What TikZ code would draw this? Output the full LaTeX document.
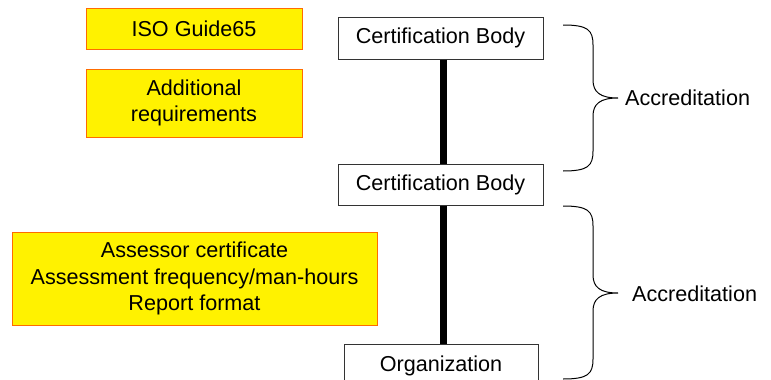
\documentclass[tikz,border=0pt]{standalone}
\usepackage{fontspec}
\setmainfont{Liberation Sans}
\begin{document}
\begin{tikzpicture}[x=1pt,y=-1pt,
  every node/.style={font=\fontsize{21.6}{26.5}\selectfont, inner sep=0pt, align=center},
  yel/.style={draw=orange!85!red, line width=1pt, fill=yellow},
  wbox/.style={draw=black!80, line width=1pt, fill=white},
  brc/.style={draw=black, line width=1pt},
  conn/.style={line width=7pt, draw=black}]
\useasboundingbox (0,0) rectangle (771,380);
\clip (0,0) rectangle (771,380);
% yellow boxes
\node[yel, minimum width=216, minimum height=41] (iso) at (194,29) {ISO Guide65};
\node[yel, minimum width=216, minimum height=68] (add) at (194,103) {Additional\\requirements};
\node[yel, minimum width=365, minimum height=93] (ass) at (194.5,278.5) {Assessor certificate\\Assessment frequency/man-hours\\Report format};
% white boxes
\node[wbox, minimum width=205, minimum height=42] (cb1) at (440.5,38) {Certification Body};
\node[wbox, minimum width=205, minimum height=41] (cb2) at (440.5,184.5) {Certification Body};
\node[wbox, minimum width=194, minimum height=44] (org) at (441,366) {Organization};
% connectors
\draw[conn] ([xshift=2.5]cb1.south) -- ([xshift=2.5]cb2.north);
\draw[conn] ([xshift=2.5]cb2.south) -- ([xshift=2]org.north);
% braces
\draw[brc] (563,25) .. controls (588,25) and (593,30) .. (593,45) -- (593,80)
  .. controls (593,92) and (600,98) .. (618,98)
  .. controls (600,98) and (593,104) .. (593,116) -- (593,151)
  .. controls (593,166) and (588,171) .. (563,171);
\draw[brc] (563,206) .. controls (588,206) and (593,211) .. (593,226) -- (593,275)
  .. controls (593,287) and (600,293) .. (618,293)
  .. controls (600,293) and (593,299) .. (593,311) -- (593,359)
  .. controls (593,374) and (588,379) .. (563,379);
\node[anchor=west] (acc1) at (625,98) {Accreditation};
\node[anchor=west] (acc2) at (632,294) {Accreditation};
\end{tikzpicture}
\end{document}
